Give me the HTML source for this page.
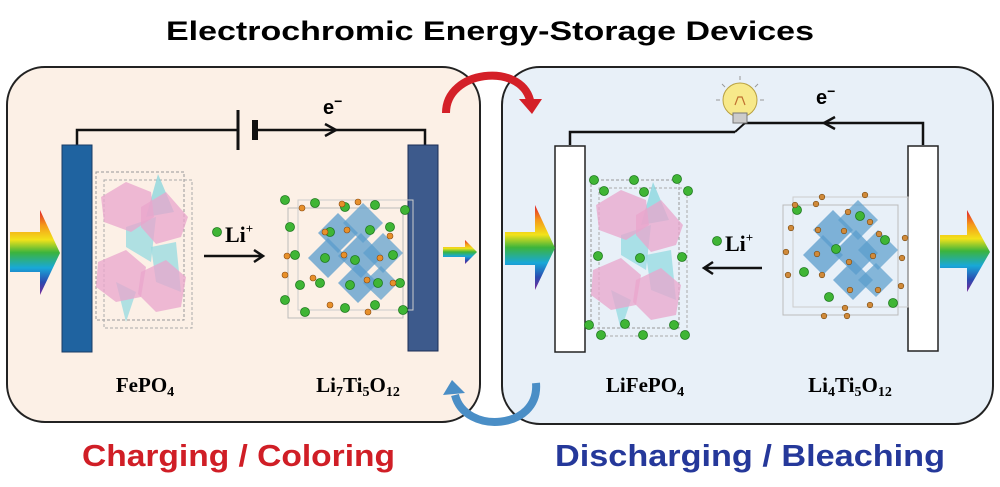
<!DOCTYPE html>
<html><head><meta charset="utf-8"><style>
html,body{margin:0;padding:0;background:#fff;}
svg{display:block;}
</style></head><body>
<svg width="1000" height="487" viewBox="0 0 1000 487" xmlns="http://www.w3.org/2000/svg">
<defs>
<linearGradient id="rb" x1="0" y1="0" x2="0" y2="1">
<stop offset="0" stop-color="#e0202a"/><stop offset="0.18" stop-color="#f59a1a"/><stop offset="0.35" stop-color="#f2e21a"/><stop offset="0.5" stop-color="#3cb43c"/><stop offset="0.68" stop-color="#18a8d8"/><stop offset="0.85" stop-color="#2a4ab0"/><stop offset="1" stop-color="#7a2a9a"/>
</linearGradient>
<g id="fep">
<rect x="0" y="0" width="88" height="148" fill="none" stroke="#999" stroke-dasharray="3,2" stroke-width="1"/>
<rect x="8" y="8" width="88" height="148" fill="none" stroke="#aaa" stroke-dasharray="3,2" stroke-width="1"/>
<polygon points="62,2 78,40 50,45" fill="#7fd3dc" opacity="0.7"/>
<polygon points="30,55 60,45 55,90 30,75" fill="#8fd8df" opacity="0.7"/>
<polygon points="55,75 80,70 85,120 60,110" fill="#8fd8df" opacity="0.7"/>
<polygon points="20,110 40,120 30,150" fill="#8fd8df" opacity="0.7"/>
<polygon points="5,25 30,10 55,20 58,45 35,60 8,50" fill="#eaa6cc" opacity="0.75"/>
<polygon points="45,35 70,20 92,45 85,65 60,72 45,55" fill="#eaa6cc" opacity="0.75"/>
<polygon points="2,90 30,78 50,95 45,125 20,130 0,115" fill="#eaa6cc" opacity="0.75"/>
<polygon points="45,100 70,88 90,105 85,135 60,140 42,122" fill="#eaa6cc" opacity="0.75"/>
</g>
<g id="lto">
<rect x="5" y="10" width="115" height="110" fill="none" stroke="#bbb" stroke-width="1"/>
<rect x="15" y="2" width="115" height="110" fill="none" stroke="#ccc" stroke-width="1"/>
<polygon points="35,35 55,15 75,35 55,55" fill="#5a9ccc" opacity="0.75"/>
<polygon points="60,25 80,5 100,25 80,45" fill="#5a9ccc" opacity="0.7"/>
<polygon points="25,60 45,40 65,60 45,80" fill="#5a9ccc" opacity="0.75"/>
<polygon points="55,58 78,35 100,58 78,80" fill="#5a9ccc" opacity="0.75"/>
<polygon points="80,55 100,35 120,55 100,75" fill="#5a9ccc" opacity="0.7"/>
<polygon points="55,85 75,65 95,85 75,105" fill="#5a9ccc" opacity="0.75"/>
<polygon points="80,85 98,68 115,85 98,102" fill="#5a9ccc" opacity="0.7"/>
</g>
</defs>

<!-- title -->
<text x="490" y="40" text-anchor="middle" font-family="Liberation Sans, sans-serif" font-weight="bold" font-size="27" textLength="648" lengthAdjust="spacingAndGlyphs">Electrochromic Energy-Storage Devices</text>

<!-- boxes -->
<rect x="7" y="67" width="473" height="355" rx="38" fill="#fcf0e6" stroke="#222" stroke-width="2"/>
<rect x="502" y="67" width="491" height="357" rx="38" fill="#e8f0f8" stroke="#222" stroke-width="2"/>

<!-- curved arrows -->
<path d="M446,113 C446,70 520,62 530,100" fill="none" stroke="#d42028" stroke-width="8"/>
<polygon points="519,99 542,99 532,114" fill="#d42028"/>
<path d="M536,383 C540,430 465,435 455,395" fill="none" stroke="#4a8ec6" stroke-width="8"/>
<polygon points="443,395 465,393 452,380" fill="#4a8ec6"/>

<!-- left panel -->
<path d="M77,145 V130 H238 M255,130 H425 V145" fill="none" stroke="#111" stroke-width="2.5"/>
<line x1="238" y1="110" x2="238" y2="150" stroke="#111" stroke-width="3"/>
<rect x="252" y="120" width="6" height="20" fill="#111"/>
<path d="M325,124 L336,130 L325,136" fill="none" stroke="#111" stroke-width="2.5"/>
<text x="323" y="114" font-family="Liberation Sans, sans-serif" font-weight="bold" font-size="20">e<tspan font-size="14" dy="-8">−</tspan></text>
<rect x="62" y="145" width="30" height="207" fill="#1f63a0" stroke="#1a3d66" stroke-width="1"/>
<rect x="408" y="145" width="30" height="206" fill="#3d5a8c" stroke="#1a2d55" stroke-width="1"/>
<polygon points="10,232 40,232 40,210 60,253 40,295 40,272 10,272" fill="url(#rb)"/>
<polygon points="443,247 465,247 465,240 477,252 465,264 465,257 443,257" fill="url(#rb)"/>
<use href="#fep" x="96" y="172"/>
<use href="#lto" x="283" y="198"/>
<g fill="#3fb535" stroke="#1e7a1e" stroke-width="0.8">
<circle cx="285" cy="200" r="4.5"/><circle cx="315" cy="203" r="4.5"/><circle cx="345" cy="207" r="4.5"/><circle cx="375" cy="205" r="4.5"/><circle cx="405" cy="210" r="4.5"/>
<circle cx="290" cy="227" r="4.5"/><circle cx="330" cy="232" r="4.5"/><circle cx="370" cy="230" r="4.5"/><circle cx="390" cy="227" r="4.5"/>
<circle cx="295" cy="255" r="4.5"/><circle cx="325" cy="258" r="4.5"/><circle cx="355" cy="260" r="4.5"/><circle cx="393" cy="255" r="4.5"/>
<circle cx="300" cy="285" r="4.5"/><circle cx="320" cy="283" r="4.5"/><circle cx="350" cy="285" r="4.5"/><circle cx="378" cy="283" r="4.5"/><circle cx="400" cy="283" r="4.5"/>
<circle cx="285" cy="300" r="4.5"/><circle cx="305" cy="312" r="4.5"/><circle cx="345" cy="308" r="4.5"/><circle cx="375" cy="305" r="4.5"/><circle cx="403" cy="310" r="4.5"/>
</g>
<g fill="#e8902a" stroke="#8a4a10" stroke-width="0.6">
<circle cx="302" cy="208" r="3"/><circle cx="342" cy="204" r="3"/><circle cx="358" cy="202" r="3"/><circle cx="325" cy="232" r="3"/><circle cx="347" cy="230" r="3"/><circle cx="390" cy="236" r="3"/><circle cx="287" cy="256" r="3"/><circle cx="344" cy="255" r="3"/><circle cx="380" cy="258" r="3"/><circle cx="285" cy="275" r="3"/><circle cx="313" cy="278" r="3"/><circle cx="367" cy="280" r="3"/><circle cx="393" cy="283" r="3"/><circle cx="330" cy="305" r="3"/><circle cx="368" cy="312" r="3"/>
</g>
<circle cx="217" cy="232" r="4.5" fill="#3fb535" stroke="#1e7a1e" stroke-width="0.8"/>
<text x="225" y="242" font-family="Liberation Serif, serif" font-weight="bold" font-size="22">Li<tspan font-size="13" dy="-9">+</tspan></text>
<path d="M204,256 H262 M254,250 L263,256 L254,262" fill="none" stroke="#111" stroke-width="2.5"/>
<text x="145" y="392" text-anchor="middle" font-family="Liberation Serif, serif" font-weight="bold" font-size="21">FePO<tspan font-size="14" dy="4">4</tspan></text>
<text x="358" y="392" text-anchor="middle" font-family="Liberation Serif, serif" font-weight="bold" font-size="21">Li<tspan font-size="14" dy="4">7</tspan><tspan dy="-4">Ti</tspan><tspan font-size="14" dy="4">5</tspan><tspan dy="-4">O</tspan><tspan font-size="14" dy="4">12</tspan></text>

<!-- right panel -->
<path d="M570,145 V132 H735 M745,123 H923 V145" fill="none" stroke="#111" stroke-width="2.5"/>
<line x1="735" y1="132" x2="745" y2="123" stroke="#111" stroke-width="2"/>
<circle cx="740" cy="100" r="17" fill="#f7e98a" stroke="#b8a040" stroke-width="1"/>
<rect x="733" y="113" width="14" height="10" fill="#ccc" stroke="#777" stroke-width="1"/>
<path d="M735,105 L738,97 L742,97 L745,105" fill="none" stroke="#c07030" stroke-width="1.2"/>
<g stroke="#999" stroke-width="1"><line x1="740" y1="76" x2="740" y2="80"/><line x1="722" y1="84" x2="725" y2="87"/><line x1="758" y1="84" x2="755" y2="87"/><line x1="716" y1="100" x2="720" y2="100"/><line x1="764" y1="100" x2="760" y2="100"/></g>
<path d="M835,117 L824,123 L835,129" fill="none" stroke="#111" stroke-width="2.5"/>
<text x="816" y="104" font-family="Liberation Sans, sans-serif" font-weight="bold" font-size="20">e<tspan font-size="14" dy="-8">−</tspan></text>
<rect x="555" y="146" width="30" height="206" fill="#fff" stroke="#222" stroke-width="1.5"/>
<rect x="908" y="146" width="30" height="205" fill="#fff" stroke="#222" stroke-width="1.5"/>
<polygon points="505,232 535,232 535,205 555,248 535,290 535,265 505,265" fill="url(#rb)"/>
<polygon points="940,235 967,235 967,210 990,252 967,292 967,268 940,268" fill="url(#rb)"/>
<use href="#fep" x="591" y="180"/>
<use href="#lto" x="778" y="195"/>
<g fill="#3fb535" stroke="#1e7a1e" stroke-width="0.8">
<circle cx="594" cy="180" r="4.5"/><circle cx="634" cy="180" r="4.5"/><circle cx="677" cy="179" r="4.5"/><circle cx="604" cy="191" r="4.5"/><circle cx="644" cy="192" r="4.5"/><circle cx="688" cy="191" r="4.5"/>
<circle cx="598" cy="256" r="4.5"/><circle cx="640" cy="258" r="4.5"/><circle cx="682" cy="257" r="4.5"/>
<circle cx="589" cy="325" r="4.5"/><circle cx="625" cy="324" r="4.5"/><circle cx="674" cy="325" r="4.5"/><circle cx="601" cy="335" r="4.5"/><circle cx="643" cy="335" r="4.5"/><circle cx="685" cy="335" r="4.5"/>
<circle cx="797" cy="210" r="4.5"/><circle cx="860" cy="216" r="4.5"/><circle cx="836" cy="249" r="4.5"/><circle cx="885" cy="240" r="4.5"/><circle cx="804" cy="272" r="4.5"/><circle cx="829" cy="297" r="4.5"/><circle cx="893" cy="303" r="4.5"/>
</g>
<g fill="#d08a3a" stroke="#7a4a10" stroke-width="0.6">
<circle cx="822" cy="197" r="2.8"/><circle cx="865" cy="195" r="2.8"/><circle cx="795" cy="205" r="2.8"/><circle cx="816" cy="204" r="2.8"/><circle cx="848" cy="212" r="2.8"/><circle cx="870" cy="222" r="2.8"/><circle cx="791" cy="228" r="2.8"/><circle cx="818" cy="230" r="2.8"/><circle cx="844" cy="231" r="2.8"/><circle cx="879" cy="234" r="2.8"/><circle cx="905" cy="238" r="2.8"/><circle cx="786" cy="252" r="2.8"/><circle cx="817" cy="254" r="2.8"/><circle cx="849" cy="262" r="2.8"/><circle cx="873" cy="256" r="2.8"/><circle cx="902" cy="258" r="2.8"/><circle cx="788" cy="275" r="2.8"/><circle cx="822" cy="275" r="2.8"/><circle cx="850" cy="290" r="2.8"/><circle cx="878" cy="290" r="2.8"/><circle cx="901" cy="286" r="2.8"/><circle cx="845" cy="308" r="2.8"/><circle cx="870" cy="305" r="2.8"/><circle cx="824" cy="316" r="2.8"/><circle cx="847" cy="316" r="2.8"/>
</g>
<circle cx="717" cy="241" r="4.5" fill="#3fb535" stroke="#1e7a1e" stroke-width="0.8"/>
<text x="725" y="251" font-family="Liberation Serif, serif" font-weight="bold" font-size="22">Li<tspan font-size="13" dy="-9">+</tspan></text>
<path d="M762,268 H705 M713,262 L704,268 L713,274" fill="none" stroke="#111" stroke-width="2.5"/>
<text x="645" y="392" text-anchor="middle" font-family="Liberation Serif, serif" font-weight="bold" font-size="21">LiFePO<tspan font-size="14" dy="4">4</tspan></text>
<text x="850" y="392" text-anchor="middle" font-family="Liberation Serif, serif" font-weight="bold" font-size="21">Li<tspan font-size="14" dy="4">4</tspan><tspan dy="-4">Ti</tspan><tspan font-size="14" dy="4">5</tspan><tspan dy="-4">O</tspan><tspan font-size="14" dy="4">12</tspan></text>

<!-- bottom labels -->
<text x="82" y="466" font-family="Liberation Sans, sans-serif" font-weight="bold" font-size="31" fill="#d01e26" textLength="313" lengthAdjust="spacingAndGlyphs">Charging / Coloring</text>
<text x="555" y="466" font-family="Liberation Sans, sans-serif" font-weight="bold" font-size="31" fill="#25389a" textLength="390" lengthAdjust="spacingAndGlyphs">Discharging / Bleaching</text>
</svg>
</body></html>
